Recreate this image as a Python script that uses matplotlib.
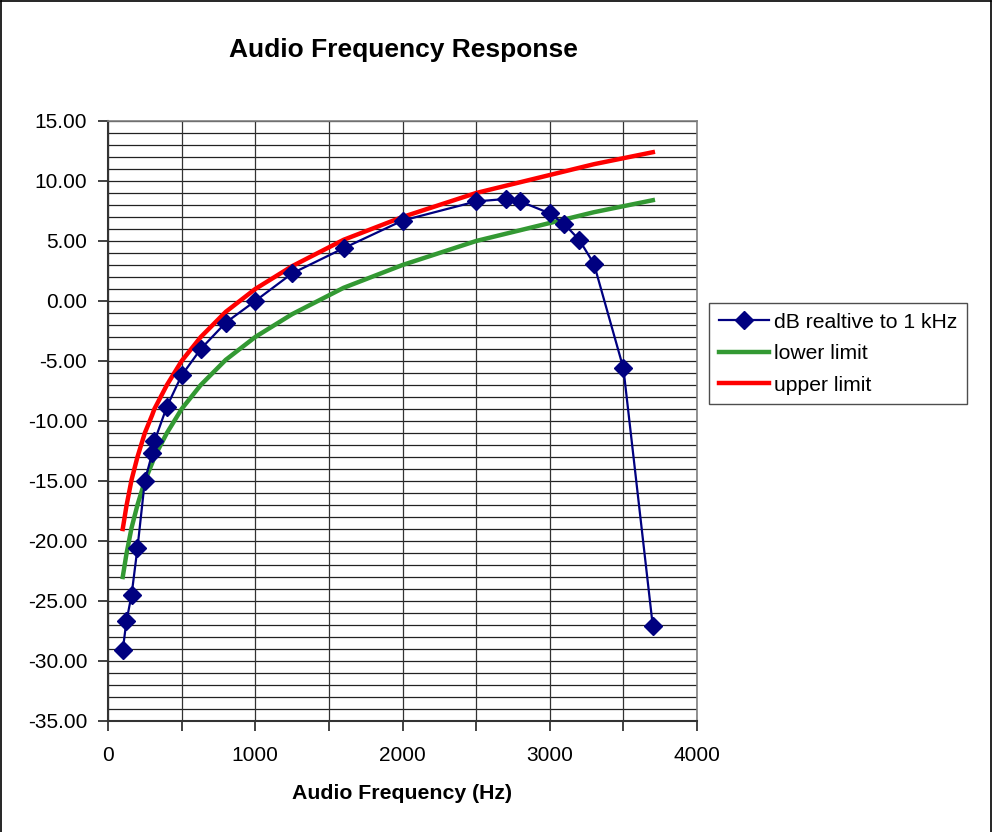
import matplotlib
matplotlib.use("Agg")
import matplotlib.pyplot as plt
from matplotlib.lines import Line2D

plt.rcParams['font.family'] = ['Liberation Sans', 'DejaVu Sans']

# Measured response (Hz, dB relative to 1 kHz)
freq_hz = [100, 125, 160, 200, 250, 300, 315, 400, 500, 630, 800, 1000,
           1250, 1600, 2000, 2500, 2700, 2800, 3000, 3100, 3200, 3300, 3500, 3700]
db_rel_1k = [-29.1, -26.7, -24.5, -20.6, -15.0, -12.7, -11.7, -8.8, -6.2, -4.0,
             -1.8, 0.0, 2.3, 4.4, 6.7, 8.3, 8.5, 8.3, 7.3, 6.4, 5.1, 3.1, -5.6, -27.1]

# Limit curves at the same frequencies
lower_limit = [-23.0, -21.1, -18.9, -17.0, -15.0, -13.5, -13.0, -11.0, -9.0, -7.0,
               -4.9, -3.0, -1.1, 1.1, 3.0, 5.0, 5.6, 5.9, 6.5, 6.8, 7.1, 7.4, 7.9, 8.4]
upper_limit = [-19.0, -17.1, -14.9, -13.0, -11.0, -9.5, -9.0, -7.0, -5.0, -3.0,
               -0.9, 1.0, 2.9, 5.1, 7.0, 9.0, 9.6, 9.9, 10.5, 10.8, 11.1, 11.4, 11.9, 12.4]

x_ticks = [0, 500, 1000, 1500, 2000, 2500, 3000, 3500, 4000]
x_tick_labels = ["0", "", "1000", "", "2000", "", "3000", "", "4000"]
y_ticks = [15, 10, 5, 0, -5, -10, -15, -20, -25, -30, -35]

W, H = 992, 832
fig = plt.figure(figsize=(W / 100, H / 100), dpi=100)
ax = fig.add_axes([108 / W, 1 - 721 / H, (697 - 108) / W, (721 - 121) / H])

# grid
for v in range(-35, 16):
    ax.axhline(v, color='#222222', lw=0.9, zorder=1)
for v in x_ticks:
    ax.axvline(v, color='#333333', lw=0.9, zorder=1)

ax.plot(freq_hz, db_rel_1k, color='#000080', lw=1.6, marker='D', markersize=9.5,
        markerfacecolor='#000080', markeredgecolor='#000080', zorder=5,
        label='dB realtive to 1 kHz')
ax.plot(freq_hz, lower_limit, color='#339933', lw=3.2, zorder=3, label='lower limit')
ax.plot(freq_hz, upper_limit, color='#ff0000', lw=3.2, zorder=4, label='upper limit')

ax.set_xlim(0, 4000)
ax.set_ylim(-35, 15)
ax.set_xticks(x_ticks)
ax.set_xticklabels(x_tick_labels)
ax.set_yticks(y_ticks)
ax.set_yticklabels([f"{v:.2f}" for v in y_ticks])
ax.tick_params(axis='both', direction='out', length=7, width=1.2, color='#222222',
               labelsize=15, pad=8)
ax.tick_params(axis='x', pad=11)

for s in ['top', 'right']:
    ax.spines[s].set_color('#808080')
    ax.spines[s].set_linewidth(1.2)
for s in ['left', 'bottom']:
    ax.spines[s].set_color('#333333')
    ax.spines[s].set_linewidth(1.5)

ax.set_xlabel('Audio Frequency (Hz)', fontsize=15.3, fontweight='bold', labelpad=14)
fig.text(403 / W, 1 - 50 / H, 'Audio Frequency Response', fontsize=19,
         fontweight='bold', ha='center', va='center')

leg = fig.legend(loc='upper left', bbox_to_anchor=(709 / W, 1 - 303 / H),
                 bbox_transform=fig.transFigure, fontsize=15.2, frameon=True,
                 fancybox=False, edgecolor='#222222', handlelength=2.4,
                 borderpad=0.45, labelspacing=0.6, handletextpad=0.25,
                 borderaxespad=0)
leg.get_frame().set_linewidth(1.0)

# figure border (left, top, right)
for xs, ys in [([0.001, 0.001], [0, 0.999]), ([0.001, 0.999], [0.999, 0.999]),
               ([0.999, 0.999], [0.999, 0])]:
    fig.add_artist(Line2D(xs, ys, transform=fig.transFigure, color='black', lw=1.2))

fig.savefig('out.png', dpi=100)
